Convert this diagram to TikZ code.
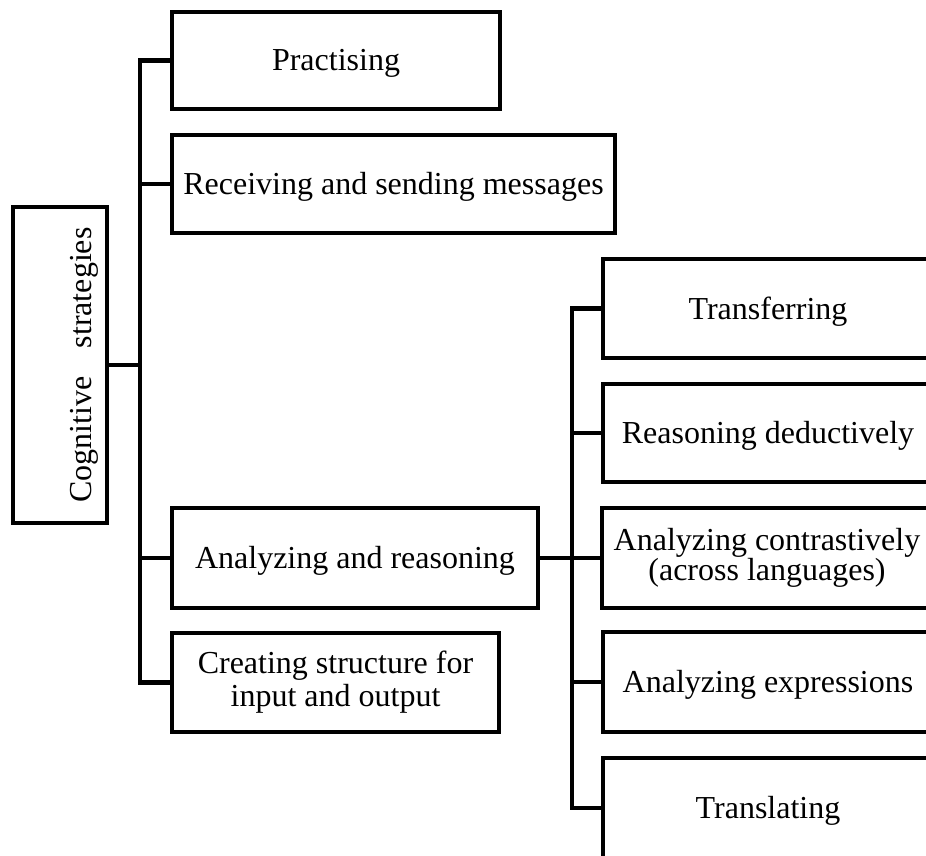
\documentclass[tikz,border=0pt]{standalone}
\usepackage{fontspec}
\setmainfont{Liberation Serif}
\begin{document}
\begin{tikzpicture}[x=1pt,y=-1pt,
  frame/.style={draw,line width=4.5pt,inner sep=0pt,outer sep=0pt,align=center,
    font=\fontsize{32}{33}\selectfont},
  box/.style={frame,text height=21pt,text depth=0pt},
  conn/.style={line width=4.5pt,line join=miter}]
\useasboundingbox (0,0) rectangle (926,856);
\clip (0,0) rectangle (926,856);
% left level
\node[frame,minimum width=94pt,minimum height=316pt] (cog) at (60,365)
  {\hspace*{48pt}\rotatebox{90}{Cognitive\hspace{28pt}strategies}};
\node[box,minimum width=328pt,minimum height=97pt] (prac) at (336,60.5) {Practising};
\node[box,minimum width=443pt,minimum height=98pt] (recv) at (393.5,184) {Receiving and sending messages};
\node[box,minimum width=366pt,minimum height=100pt] (anal) at (355,558) {Analyzing and reasoning};
\node[frame,minimum width=327pt,minimum height=99pt] (crea) at (335.5,682.5) {Creating structure for\\input and output};
% right level (cut by the picture edge)
\node[box,minimum width=330pt,minimum height=99pt] (tran) at (768,308.5) {Transferring};
\node[box,minimum width=330pt,minimum height=98pt] (reas) at (768,433) {Reasoning deductively};
\node[frame,minimum width=330pt,minimum height=100pt,font=\fontsize{32}{30}\selectfont] (cont) at (767,558) {Analyzing\hspace{8pt}contrastively\\(across languages)};
\node[box,minimum width=330pt,minimum height=100pt] (expr) at (768,682) {Analyzing expressions};
\node[box,minimum width=330pt,minimum height=100pt] (trsl) at (768,808) {Translating};
% trunks
\coordinate (j1) at (140,0);
\coordinate (j2) at (572,0);
\draw[conn] (prac.west) -- (prac.west -| j1) -- (crea.west -| j1) -- (crea.west);
\draw[conn] (recv.west) -- (recv.west -| j1);
\draw[conn] (anal.west) -- (anal.west -| j1);
\draw[conn] (cog.east) -- (cog.east -| j1);
\draw[conn] (tran.west) -- (tran.west -| j2) -- (trsl.west -| j2) -- (trsl.west);
\draw[conn] (reas.west) -- (reas.west -| j2);
\draw[conn] (anal.east) -- (cont.west);
\draw[conn] (expr.west) -- (expr.west -| j2);
\end{tikzpicture}
\end{document}
